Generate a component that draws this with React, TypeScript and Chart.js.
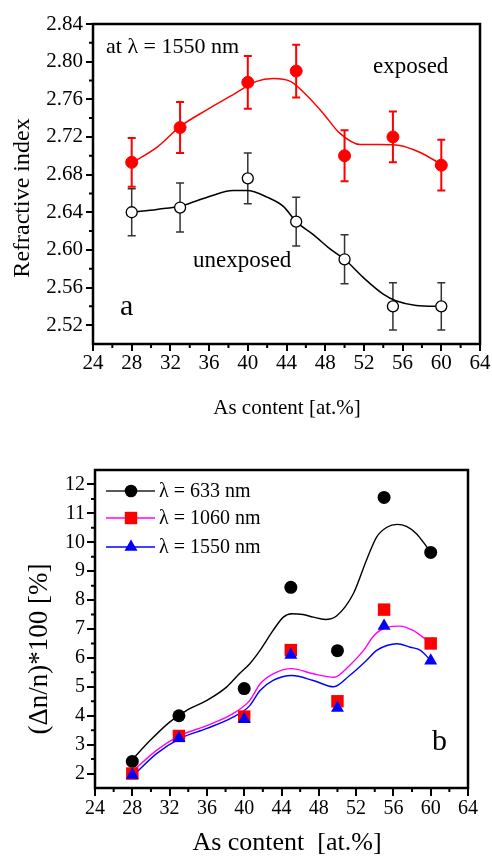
import React, { useEffect, useRef } from 'react';
import { Chart, registerables } from 'chart.js';

Chart.register(...registerables);

const FONT = '"Liberation Serif", "Times New Roman", serif';

// ---------- Panel a: refractive index ----------
const A_X = [28, 33, 40, 45, 50, 55, 60];
const A_EXPOSED = [2.693, 2.730, 2.778, 2.790, 2.700, 2.720, 2.690];
const A_EXPOSED_ERR = [0.026, 0.027, 0.028, 0.028, 0.027, 0.027, 0.027];
const A_UNEXPOSED = [2.640, 2.645, 2.676, 2.630, 2.590, 2.540, 2.540];
const A_UNEXPOSED_ERR = [0.025, 0.026, 0.027, 0.026, 0.026, 0.025, 0.025];

const A_FIT_EXP_X = [28.1, 30.6, 33.0, 35.8, 38.5, 40.9, 42.6, 44.4, 46.1, 47.8, 49.5, 51.6, 53.6, 55.7, 57.7, 60];
const A_FIT_EXP_Y = [2.693, 2.709, 2.731, 2.749, 2.765, 2.779, 2.782, 2.779, 2.764, 2.745, 2.724, 2.712, 2.712, 2.711, 2.704, 2.691];
const A_FIT_UNEXP_X = [28.1, 30.6, 33.2, 35.8, 38.5, 39.9, 42.0, 43.7, 45.0, 46.8, 48.5, 50.0, 51.9, 54.0, 55.3, 57.4, 60];
const A_FIT_UNEXP_Y = [2.640, 2.643, 2.647, 2.656, 2.663, 2.663, 2.656, 2.646, 2.630, 2.616, 2.601, 2.590, 2.571, 2.553, 2.546, 2.541, 2.540];

const A_X_TICKS = [24, 28, 32, 36, 40, 44, 48, 52, 56, 60, 64];
const A_Y_TICKS = [2.52, 2.56, 2.60, 2.64, 2.68, 2.72, 2.76, 2.80, 2.84];
const A_Y_LABELS = ['2.52', '2.56', '2.60', '2.64', '2.68', '2.72', '2.76', '2.80', '2.84'];

const A_TITLE_X = 'As content [at.%]';
const A_TITLE_Y = 'Refractive index';
const A_NOTE_WAVE = 'at \u03bb = 1550 nm';
const A_NOTE_EXP = 'exposed';
const A_NOTE_UNEXP = 'unexposed';
const A_PANEL = 'a';

// ---------- Panel b: relative change ----------
const B_X = [28, 33, 40, 45, 50, 55, 60];
const B_633 = [2.42, 4.0, 4.94, 8.44, 6.25, 11.55, 9.65];
const B_1060 = [2.0, 3.3, 3.97, 6.27, 4.5, 7.67, 6.5];
const B_1550 = [1.95, 3.22, 3.88, 6.1, 4.27, 7.1, 5.9];

const B_FIT_633_X = [28.1, 29.9, 32.0, 33.8, 36.0, 38.1, 39.5, 40.6, 41.7, 43.1, 44.2, 45.1, 46.3, 47.4, 48.7, 49.9, 51.7, 53.1, 54.2, 55.3, 56.4, 57.4, 58.5, 59.6, 60];
const B_FIT_633_Y = [2.52, 3.14, 3.78, 4.18, 4.53, 4.99, 5.46, 5.8, 6.26, 6.95, 7.41, 7.53, 7.5, 7.41, 7.33, 7.45, 8.22, 9.37, 10.18, 10.52, 10.62, 10.55, 10.29, 9.83, 9.66];
const B_FIT_1060_X = [28.1, 30.6, 33.1, 36.0, 38.8, 40.6, 41.7, 43.1, 45.1, 47.4, 49.6, 51.3, 52.8, 53.9, 55.3, 56.7, 58.1, 59.4, 60];
const B_FIT_1060_Y = [2.1, 2.8, 3.31, 3.66, 4.07, 4.53, 5.1, 5.45, 5.63, 5.45, 5.33, 5.74, 6.26, 6.77, 7.06, 7.1, 6.95, 6.66, 6.5];
const B_FIT_1550_X = [28.1, 30.6, 33.1, 36.0, 38.8, 40.6, 41.7, 43.1, 45.1, 47.4, 49.6, 51.3, 53.1, 54.2, 55.3, 56.4, 57.8, 58.9, 60];
const B_FIT_1550_Y = [1.93, 2.69, 3.21, 3.56, 3.95, 4.35, 4.87, 5.22, 5.39, 5.22, 5.0, 5.39, 5.91, 6.26, 6.43, 6.49, 6.37, 6.26, 5.91];

const B_X_TICKS = [24, 28, 32, 36, 40, 44, 48, 52, 56, 60, 64];
const B_Y_TICKS = [2, 3, 4, 5, 6, 7, 8, 9, 10, 11, 12];

const B_LEGEND = ['\u03bb = 633 nm', '\u03bb = 1060 nm', '\u03bb = 1550 nm'];
const B_TITLE_X = 'As content  [at.%]';
const B_TITLE_Y = '(\u0394n/n)*100 [%]';
const B_PANEL = 'b';

const pts = (xs: number[], ys: number[]) => xs.map((x, i) => ({ x, y: ys[i] }));

function framePlugin(xTicks: number[], yTicks: number[]) {
  return {
    id: 'frame',
    afterDraw(chart: any) {
      const { ctx, chartArea: a, scales } = chart;
      const mids = (t: number[]) => t.slice(1).map((v, i) => (t[i] + v) / 2);
      ctx.save();
      ctx.strokeStyle = '#000';
      ctx.lineWidth = 2;
      ctx.beginPath();
      for (const v of mids(xTicks)) {
        const px = scales.x.getPixelForValue(v);
        ctx.moveTo(px, a.bottom);
        ctx.lineTo(px, a.bottom + 4);
      }
      for (const v of mids(yTicks)) {
        const py = scales.y.getPixelForValue(v);
        ctx.moveTo(a.left, py);
        ctx.lineTo(a.left - 4, py);
      }
      ctx.stroke();
      ctx.lineWidth = 2.5;
      ctx.strokeRect(a.left, a.top, a.right - a.left, a.bottom - a.top);
      ctx.restore();
    },
  };
}

type TextItem = { text: string; x: number; y: number; size: number; rotate?: boolean; align?: CanvasTextAlign; baseline?: CanvasTextBaseline };

function textPlugin(items: TextItem[]) {
  return {
    id: 'texts',
    afterDraw(chart: any) {
      const { ctx } = chart;
      ctx.save();
      ctx.fillStyle = '#000';
      for (const it of items) {
        ctx.save();
        ctx.font = `${it.size}px ${FONT}`;
        ctx.textAlign = it.align || 'left';
        ctx.textBaseline = it.baseline || 'alphabetic';
        ctx.translate(it.x, it.y);
        if (it.rotate) ctx.rotate(-Math.PI / 2);
        ctx.fillText(it.text, 0, 0);
        ctx.restore();
      }
      ctx.restore();
    },
  };
}

function errorBarPlugin(sets: { xs: number[]; ys: number[]; err: number[]; color: string; width: number }[]) {
  return {
    id: 'errorBars',
    beforeDatasetsDraw(chart: any) {
      const { ctx, scales } = chart;
      ctx.save();
      for (const s of sets) {
        ctx.strokeStyle = s.color;
        ctx.lineWidth = s.width;
        ctx.beginPath();
        s.xs.forEach((xv, i) => {
          const px = scales.x.getPixelForValue(xv);
          const top = scales.y.getPixelForValue(s.ys[i] + s.err[i]);
          const bot = scales.y.getPixelForValue(s.ys[i] - s.err[i]);
          ctx.moveTo(px, top);
          ctx.lineTo(px, bot);
          ctx.moveTo(px - 4, top);
          ctx.lineTo(px + 4, top);
          ctx.moveTo(px - 4, bot);
          ctx.lineTo(px + 4, bot);
        });
        ctx.stroke();
      }
      ctx.restore();
    },
  };
}

function legendPlugin(labels: string[], colors: string[], markers: string[], fills: string[]) {
  return {
    id: 'customLegend',
    afterDraw(chart: any) {
      const { ctx } = chart;
      const ys = [61, 88, 117];
      ctx.save();
      labels.forEach((lab, i) => {
        const y = ys[i];
        ctx.strokeStyle = colors[i];
        ctx.lineWidth = 1.5;
        ctx.beginPath();
        ctx.moveTo(106, y);
        ctx.lineTo(155, y);
        ctx.stroke();
        ctx.fillStyle = fills[i];
        ctx.beginPath();
        const cx = 131;
        if (markers[i] === 'circle') {
          ctx.arc(cx, y, 6.3, 0, Math.PI * 2);
        } else if (markers[i] === 'rect') {
          ctx.rect(cx - 6.2, y - 6.2, 12.4, 12.4);
        } else {
          const r = 7.5;
          ctx.moveTo(cx, y - r);
          ctx.lineTo(cx + r * Math.sin((2 * Math.PI) / 3), y + r / 2);
          ctx.lineTo(cx - r * Math.sin((2 * Math.PI) / 3), y + r / 2);
          ctx.closePath();
        }
        ctx.fill();
        ctx.fillStyle = '#000';
        ctx.font = `20px ${FONT}`;
        ctx.textBaseline = 'middle';
        ctx.textAlign = 'left';
        ctx.fillText(lab, 159, y + 1);
      });
      ctx.restore();
    },
  };
}

function axisOpts(min: number, max: number, ticks: number[], size: number, fitProp: 'width' | 'height', fitVal: number, padding: number, tickLen: number, labels?: string[]) {
  return {
    type: 'linear' as const,
    min,
    max,
    afterBuildTicks: (s: any) => {
      s.ticks = ticks.map((v) => ({ value: v }));
    },
    afterFit: (s: any) => {
      s[fitProp] = fitVal;
    },
    grid: { drawOnChartArea: false, drawTicks: true, tickLength: tickLen, tickWidth: 2, tickColor: '#000', lineWidth: 0 },
    border: { display: false },
    ticks: {
      color: '#000',
      font: { family: FONT, size },
      padding,
      maxRotation: 0,
      autoSkip: false,
      callback: (v: any, i: number) => (labels ? labels[i] : String(v)),
    },
  };
}

export default function App() {
  const refA = useRef<HTMLCanvasElement>(null);
  const refB = useRef<HTMLCanvasElement>(null);

  useEffect(() => {
    Chart.defaults.font.family = FONT;
    const chartA = new Chart(refA.current!, {
      type: 'scatter',
      data: {
        datasets: [
          {
            label: 'exposed',
            data: pts(A_X, A_EXPOSED),
            pointStyle: 'circle',
            pointRadius: 6,
            backgroundColor: '#ff0000',
            borderColor: '#ff0000',
            borderWidth: 1,
            order: 0,
          },
          {
            label: 'unexposed',
            data: pts(A_X, A_UNEXPOSED),
            pointStyle: 'circle',
            pointRadius: 5.5,
            backgroundColor: '#ffffff',
            borderColor: '#000000',
            borderWidth: 1.3,
            order: 0,
          },
          {
            label: 'fit exposed',
            data: pts(A_FIT_EXP_X, A_FIT_EXP_Y),
            showLine: true,
            pointRadius: 0,
            borderColor: '#ff0000',
            borderWidth: 1.5,
            cubicInterpolationMode: 'monotone',
            order: 1,
          },
          {
            label: 'fit unexposed',
            data: pts(A_FIT_UNEXP_X, A_FIT_UNEXP_Y),
            showLine: true,
            pointRadius: 0,
            borderColor: '#000000',
            borderWidth: 1.5,
            cubicInterpolationMode: 'monotone',
            order: 1,
          },
        ] as any,
      },
      options: {
        responsive: false,
        animation: false,
        layout: { padding: { top: 24, right: 12, left: 0, bottom: 0 } },
        plugins: { legend: { display: false }, tooltip: { enabled: false } },
        scales: {
          x: axisOpts(24, 64, A_X_TICKS, 21, 'height', 86, 0, 7) as any,
          y: axisOpts(2.5, 2.84, A_Y_TICKS, 21, 'width', 93, 3, 7, A_Y_LABELS) as any,
        },
      },
      plugins: [
        errorBarPlugin([
          { xs: A_X, ys: A_EXPOSED, err: A_EXPOSED_ERR, color: '#ff0000', width: 2 },
          { xs: A_X, ys: A_UNEXPOSED, err: A_UNEXPOSED_ERR, color: '#333333', width: 1.5 },
        ]),
        framePlugin(A_X_TICKS, A_Y_TICKS),
        textPlugin([
          { text: A_NOTE_WAVE, x: 106, y: 53, size: 22 },
          { text: A_NOTE_EXP, x: 373, y: 73, size: 23 },
          { text: A_NOTE_UNEXP, x: 193, y: 267, size: 23 },
          { text: A_PANEL, x: 120, y: 315, size: 30 },
          { text: A_TITLE_X, x: 287, y: 414, size: 21, align: 'center' },
          { text: A_TITLE_Y, x: 23, y: 198, size: 24, align: 'center', baseline: 'middle', rotate: true },
        ]),
      ] as any,
    });

    const chartB = new Chart(refB.current!, {
      type: 'scatter',
      data: {
        datasets: [
          {
            label: B_LEGEND[2],
            data: pts(B_X, B_1550),
            pointStyle: 'triangle',
            pointRadius: 7.5,
            backgroundColor: '#0000ff',
            borderColor: '#0000ff',
            borderWidth: 0,
            order: 0,
          },
          {
            label: B_LEGEND[1],
            data: pts(B_X, B_1060),
            pointStyle: 'rect',
            pointRadius: 8.8,
            backgroundColor: '#ff0000',
            borderColor: '#ff0000',
            borderWidth: 0,
            order: 1,
          },
          {
            label: B_LEGEND[0],
            data: pts(B_X, B_633),
            pointStyle: 'circle',
            pointRadius: 6.5,
            backgroundColor: '#000000',
            borderColor: '#000000',
            borderWidth: 0,
            order: 2,
          },
          {
            label: 'fit 633',
            data: pts(B_FIT_633_X, B_FIT_633_Y),
            showLine: true,
            pointRadius: 0,
            borderColor: '#000000',
            borderWidth: 1.4,
            cubicInterpolationMode: 'monotone',
            order: 3,
          },
          {
            label: 'fit 1060',
            data: pts(B_FIT_1060_X, B_FIT_1060_Y),
            showLine: true,
            pointRadius: 0,
            borderColor: '#ff00ff',
            borderWidth: 1.4,
            cubicInterpolationMode: 'monotone',
            order: 3,
          },
          {
            label: 'fit 1550',
            data: pts(B_FIT_1550_X, B_FIT_1550_Y),
            showLine: true,
            pointRadius: 0,
            borderColor: '#0000ff',
            borderWidth: 1.4,
            cubicInterpolationMode: 'monotone',
            order: 3,
          },
        ] as any,
      },
      options: {
        responsive: false,
        animation: false,
        layout: { padding: { top: 40, right: 24, left: 0, bottom: 0 } },
        plugins: { legend: { display: false }, tooltip: { enabled: false } },
        scales: {
          x: axisOpts(24, 64, B_X_TICKS, 20, 'height', 75, 1, 8) as any,
          y: axisOpts(1.5, 12.5, B_Y_TICKS, 20, 'width', 95, 2, 8) as any,
        },
      },
      plugins: [
        framePlugin(B_X_TICKS, B_Y_TICKS),
        legendPlugin(B_LEGEND, ['#222222', '#ff00ff', '#0000ff'], ['circle', 'rect', 'triangle'], ['#000000', '#ff0000', '#0000ff']),
        textPlugin([
          { text: B_PANEL, x: 432, y: 320, size: 30 },
          { text: B_TITLE_X, x: 287, y: 420, size: 26, align: 'center' },
          { text: B_TITLE_Y, x: 40, y: 219, size: 27, align: 'center', baseline: 'middle', rotate: true },
        ]),
      ] as any,
    });

    return () => {
      chartA.destroy();
      chartB.destroy();
    };
  }, []);

  return (
    <div style={{ position: 'absolute', left: 0, top: 0, width: 492, height: 863, background: '#fff' }}>
      <canvas ref={refA} width={492} height={430} style={{ position: 'absolute', left: 0, top: 0, display: 'block' }} />
      <canvas ref={refB} width={492} height={433} style={{ position: 'absolute', left: 0, top: 430, display: 'block' }} />
    </div>
  );
}
